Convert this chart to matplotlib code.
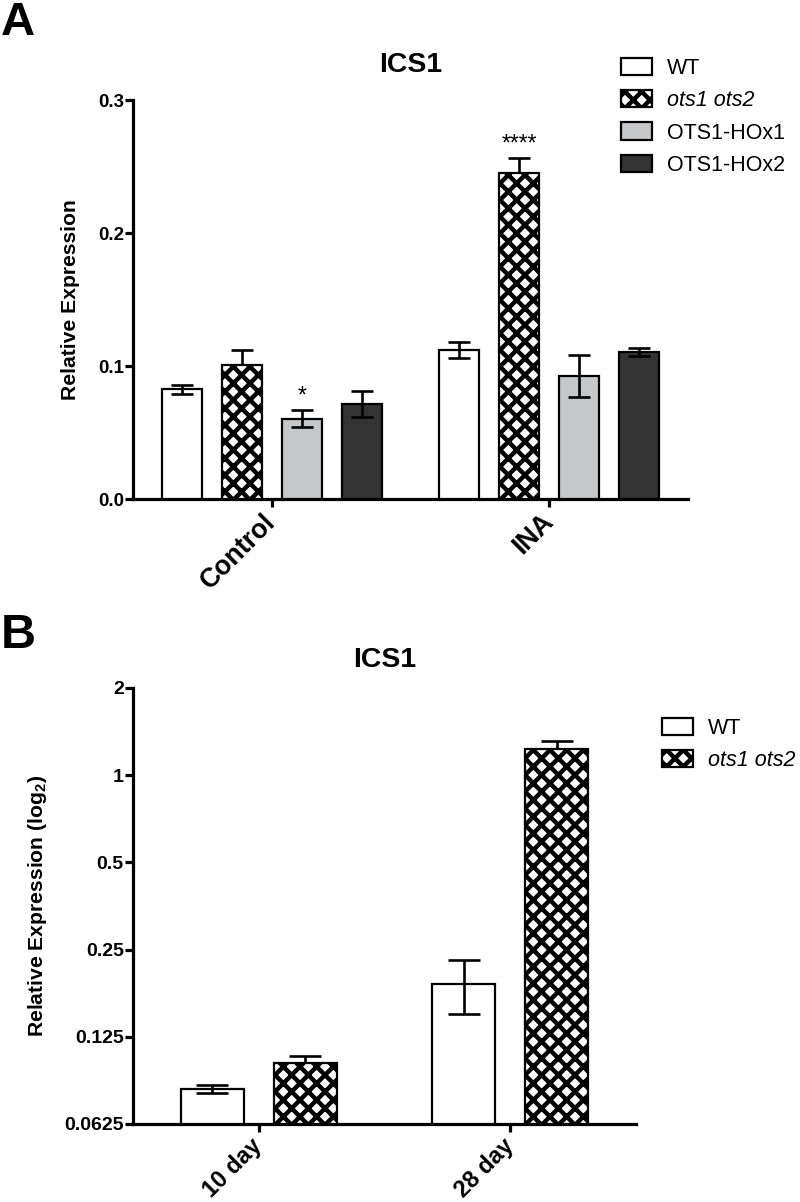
import matplotlib
matplotlib.use("Agg")
import matplotlib.pyplot as plt
from matplotlib.patches import Patch
import numpy as np

plt.rcParams['font.family'] = ['Liberation Sans', 'DejaVu Sans']
plt.rcParams['mathtext.fontset'] = 'custom'
plt.rcParams['mathtext.rm'] = 'Liberation Sans:bold'
plt.rcParams['mathtext.it'] = 'Liberation Sans:bold'
plt.rcParams['mathtext.bf'] = 'Liberation Sans:bold'
plt.rcParams['hatch.linewidth'] = 3.2

# ---------------- data ----------------
groups_a = ['Control', 'INA']
genotypes_a = ['WT', 'ots1 ots2', 'OTS1-HOx1', 'OTS1-HOx2']
wt_a = [0.0825, 0.112]
ots_a = [0.1005, 0.245]
hox1_a = [0.0605, 0.0925]
hox2_a = [0.0715, 0.1105]
wt_a_err = [0.0033, 0.0063]
ots_a_err = [0.0115, 0.0115]
hox1_a_err = [0.0064, 0.016]
hox2_a_err = [0.0098, 0.003]
yticks_a = [0.0, 0.1, 0.2, 0.3]
ytick_labels_a = ['0.0', '0.1', '0.2', '0.3']

groups_b = ['10 day', '28 day']
genotypes_b = ['WT', 'ots1 ots2']
wt_b = [0.0825, 0.190]
ots_b = [0.1015, 1.23]
wt_b_err = [0.0024, 0.040]
ots_b_err = [0.0061, 0.08]
yticks_b = [0.0625, 0.125, 0.25, 0.5, 1, 2]
ytick_labels_b = ['0.0625', '0.125', '0.25', '0.5', '1', '2']

# ---------------- style ----------------
W, H = 800, 1202
fig = plt.figure(figsize=(8, 12.02), dpi=100)

styles = [
    dict(facecolor='white', edgecolor='black', hatch=None),
    dict(facecolor='white', edgecolor='black', hatch='xx'),
    dict(facecolor='#c6c7c9', edgecolor='black', hatch=None),
    dict(facecolor='#333333', edgecolor='black', hatch=None),
]
LW = 1.6
SP = 2.3


def style_axes(ax, labelsize):
    for s in ['top', 'right']:
        ax.spines[s].set_visible(False)
    for s in ['left', 'bottom']:
        ax.spines[s].set_linewidth(SP)
    ax.tick_params(axis='both', width=SP, length=5.6, direction='out')
    ax.tick_params(axis='y', labelsize=labelsize, pad=1)
    for lab in ax.get_yticklabels():
        lab.set_fontweight('bold')


def draw_bar(ax, x, val, err, st, width, capsize, bottom=0.0):
    hatched = st['hatch'] is not None
    ax.bar(x, np.array(val) - bottom, width=width, bottom=bottom,
           facecolor=st['facecolor'], edgecolor=st['edgecolor'],
           hatch=st['hatch'], linewidth=LW, zorder=3)
    ax.errorbar(x, val, yerr=err, fmt='none', ecolor='black',
                elinewidth=1.9, capsize=capsize, capthick=1.9,
                zorder=2 if hatched else 4)


# ---------------- panel A ----------------
axA = fig.add_axes([133 / W, 1 - 499 / H, (688 - 133) / W, (499 - 100) / H])
xa = np.arange(len(groups_a))
bw_a = 0.144
pitch_a = 0.216
offs_a = (np.arange(4) - 1.5) * pitch_a
vals_a = [wt_a, ots_a, hox1_a, hox2_a]
errs_a = [wt_a_err, ots_a_err, hox1_a_err, hox2_a_err]
for i in range(4):
    draw_bar(axA, xa + offs_a[i], vals_a[i], errs_a[i], styles[i], bw_a, 7.6)
axA.set_xlim(-0.5, 1.5)
axA.set_ylim(0, 0.3)
axA.set_yticks(yticks_a)
axA.set_yticklabels(ytick_labels_a)
axA.set_xticks(xa)
axA.set_xticklabels(groups_a, rotation=45, ha='right', va='center',
                    rotation_mode='anchor', fontsize=19.2, fontweight='bold')
style_axes(axA, 13.5)
axA.tick_params(axis='x', pad=8)
axA.set_ylabel('Relative Expression', fontsize=15.2, fontweight='bold', va='center')
axA.yaxis.set_label_coords(-62 / 555, 0.5)
axA.text(0.5, 1 + 35 / 399, 'ICS1', transform=axA.transAxes, ha='center',
         va='center', fontsize=20.5, fontweight='bold')
# significance marks
axA.text(xa[1] + offs_a[1], ots_a[1] + ots_a_err[1] + 0.002, '****',
         ha='center', va='bottom', fontsize=16.5)
axA.text(xa[0] + offs_a[2], hox1_a[0] + hox1_a_err[0] + 0.002, '*',
         ha='center', va='bottom', fontsize=16.5)

handles_a = [Patch(facecolor=s['facecolor'], edgecolor='black', hatch=s['hatch'],
                   linewidth=LW) for s in styles]
legA = fig.legend(handles_a, genotypes_a, loc='upper left',
                  bbox_to_anchor=(621 / W, 1 - 58 / H), frameon=False,
                  fontsize=15.5, handlelength=1.45, handleheight=0.85,
                  handletextpad=0.7, labelspacing=0.52, borderpad=0,
                  borderaxespad=0)
legA.get_texts()[1].set_fontstyle('italic')

# ---------------- panel B ----------------
axB = fig.add_axes([133 / W, 1 - 1124 / H, (636 - 133) / W, (1124 - 688) / H])
axB.set_yscale('log', base=2)
xb = np.arange(len(groups_b))
bw_b = 0.25
pitch_b = 0.37
offs_b = (np.arange(2) - 0.5) * pitch_b
vals_b = [wt_b, ots_b]
errs_b = [wt_b_err, ots_b_err]
for i in range(2):
    draw_bar(axB, xb + offs_b[i], vals_b[i], errs_b[i], styles[i], bw_b, 11.2,
             bottom=yticks_b[0])
axB.set_xlim(-0.5, 1.5)
axB.set_ylim(yticks_b[0], yticks_b[-1])
axB.set_yticks(yticks_b)
axB.set_yticklabels(ytick_labels_b)
axB.yaxis.set_minor_locator(matplotlib.ticker.NullLocator())
axB.set_xticks(xb)
axB.set_xticklabels(groups_b, rotation=45, ha='right', va='center',
                    rotation_mode='anchor', fontsize=16.8, fontweight='bold')
style_axes(axB, 14)
axB.tick_params(axis='x', pad=8)
axB.set_ylabel('Relative Expression (log$_2$)', fontsize=15.2, fontweight='bold',
               va='center')
axB.yaxis.set_label_coords(-95 / 503, 0.5)
axB.text(0.5, 1 + 28 / 436, 'ICS1', transform=axB.transAxes, ha='center',
         va='center', fontsize=20.5, fontweight='bold')

handles_b = [Patch(facecolor=s['facecolor'], edgecolor='black', hatch=s['hatch'],
                   linewidth=LW) for s in styles[:2]]
legB = fig.legend(handles_b, genotypes_b, loc='upper left',
                  bbox_to_anchor=(662 / W, 1 - 718 / H), frameon=False,
                  fontsize=15.5, handlelength=1.45, handleheight=0.85,
                  handletextpad=0.7, labelspacing=0.52, borderpad=0,
                  borderaxespad=0)
legB.get_texts()[1].set_fontstyle('italic')

# panel letters
fig.text(1 / W, 1 - 23 / H, 'A', fontsize=34, fontweight='bold', va='center', ha='left')
fig.text(1 / W, 1 - 636 / H, 'B', fontsize=35, fontweight='bold', va='center', ha='left')

fig.savefig('out.png', dpi=100)
